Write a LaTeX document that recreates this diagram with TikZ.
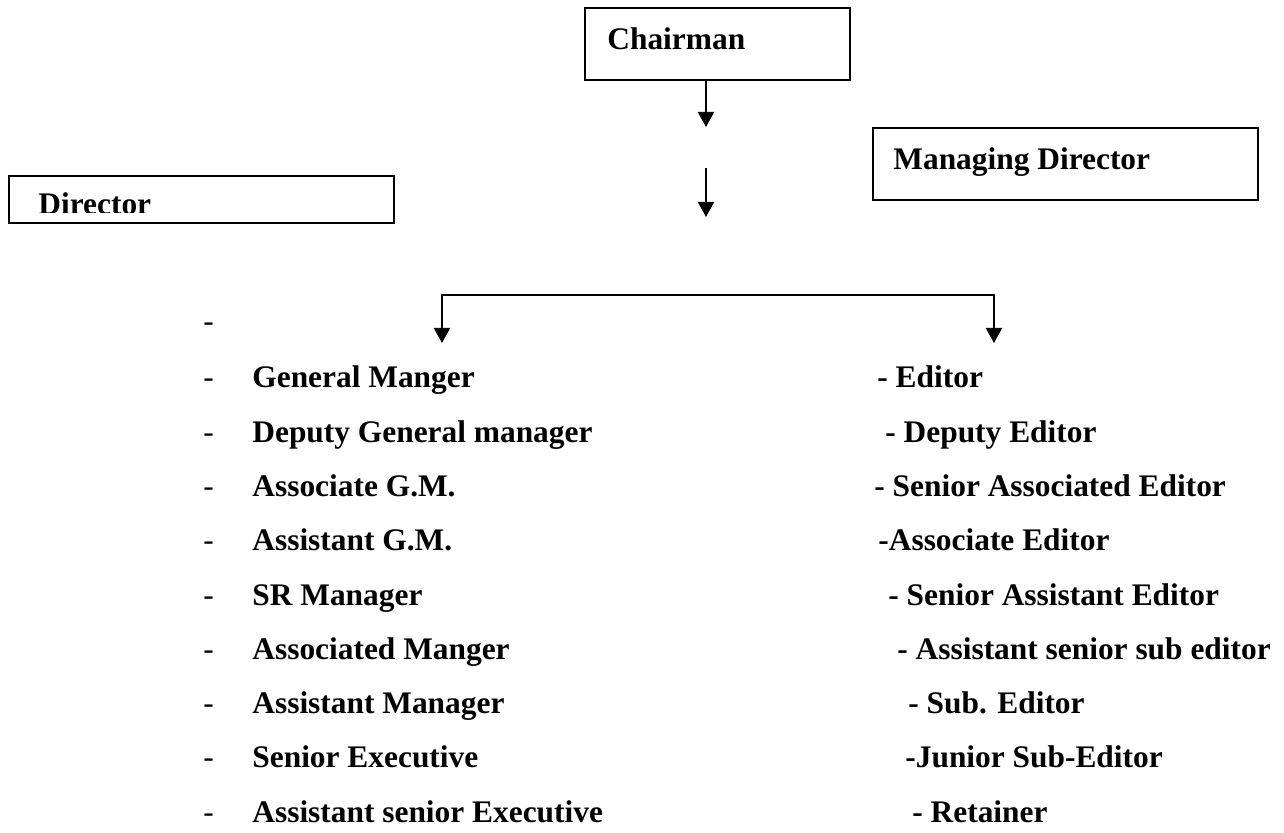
\documentclass[tikz,border=0pt]{standalone}
\usepackage{fontspec}
\setmainfont{Liberation Serif}
\usetikzlibrary{arrows.meta, positioning}

\tikzset{
    box/.style={draw, line width=1pt, inner sep=0pt},
    lbl/.style={anchor=base west, inner sep=0pt},
    dashmark/.style={lbl, font=\fontsize{15.7}{18}\selectfont\mdseries},
    arr/.style={line width=1pt},
    >={Triangle[width=8pt, length=7.5pt]}
}

\begin{document}
\begin{tikzpicture}[x=0.5pt, y=-0.5pt, font=\fontsize{15.7}{18}\selectfont\bfseries]
    \useasboundingbox (0,0) rectangle (1284,833);
    % boxes
    \node[box, minimum width=132.5pt, minimum height=36pt] (chair) at (717.5,44) {};
    \node[lbl] (chairtxt) at (607,50) {Chairman};
    \node[box, minimum width=192.5pt, minimum height=36pt] (md) at (1065.5,164) {};
    \node[lbl] (mdtxt) at (893,170) {Managing Director};
    \node[box, minimum width=192.5pt, minimum height=23.5pt] (dir) at (201.5,199.5) {};
    \begin{scope}
        \clip (dir.north west) rectangle (394,213);
        \node[lbl] (dirtxt) at (38,215) {Director};
    \end{scope}
    % arrows
    \coordinate (a1) at (706,127);
    \draw[arr, ->] (chair.south -| a1) -- (a1);
    \coordinate (a2) at (706,168);
    \coordinate (a2end) at (706,217);
    \draw[arr, ->] (a2) -- (a2end);
    \coordinate (ltip) at (442,343);
    \coordinate (rtop) at (994,295);
    \coordinate (rtip) at (994,343);
    \draw[arr, <->] (ltip) |- (rtop) -- (rtip);
    % left list
    \node[dashmark] (ld) at (203,332) {-};
    \foreach \txt [count=\i from 0] in {General Manger, Deputy General manager,
        Associate G.M., Assistant G.M., SR Manager, Associated Manger,
        Assistant Manager, Senior Executive, Assistant senior Executive} {
        \node[dashmark] (ld\i) at (203,388+54.25*\i) {-};
        \node[lbl] (l\i) at (252,388+54.25*\i) {\txt};
    }
    % right list
    \foreach \xx/\txt [count=\i from 0] in {877/- Editor, 885/- Deputy Editor,
        874/- Senior Associated Editor, 878/-Associate Editor,
        888/- Senior Assistant Editor, 897/- Assistant senior sub editor,
        908/- Sub. Editor, 905/-Junior Sub-Editor, 912/- Retainer} {
        \node[lbl] (r\i) at (\xx,388+54.25*\i) {\txt};
    }
\end{tikzpicture}
\end{document}
